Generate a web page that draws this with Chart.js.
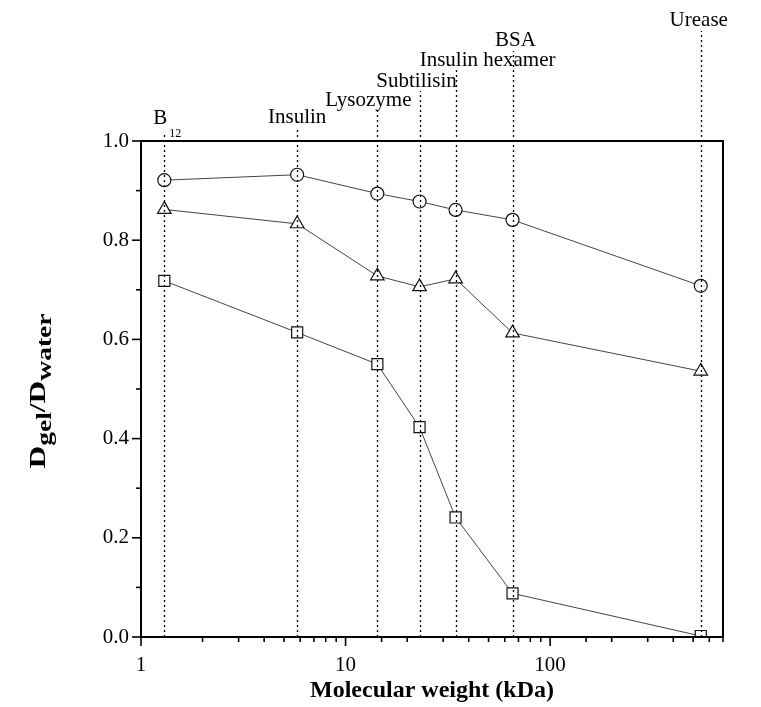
<!DOCTYPE html>
<html>
<head>
<meta charset="utf-8">
<script src="https://cdn.jsdelivr.net/npm/chart.js@4.4.0/dist/chart.umd.min.js"></script>
<style>
  html, body { margin: 0; padding: 0; background: #ffffff; }
  canvas { display: block; }
</style>
</head>
<body>
<canvas id="c" width="761" height="707"></canvas>
<script>
// ---- data ----
const proteins = ['B12', 'Insulin', 'Lysozyme', 'Subtilisin', 'Insulin hexamer', 'BSA', 'Urease'];
const molecularWeight = [1.3, 5.8, 14.3, 23, 34.5, 65.5, 545];
const seriesCircle = [0.921, 0.932, 0.894, 0.878, 0.861, 0.841, 0.708];
const seriesTriangle = [0.862, 0.833, 0.728, 0.706, 0.722, 0.613, 0.536];
const seriesSquare = [0.718, 0.614, 0.550, 0.423, 0.241, 0.088, 0.002];
const xMajorTickLabels = [1, 10, 100];
const yTickLabels = ['0.0', '0.2', '0.4', '0.6', '0.8', '1.0'];

const FONT = '"Liberation Serif", "Times New Roman", serif';

function pts(ys) { return molecularWeight.map((x, i) => ({ x: x, y: ys[i] })); }

function ds(label, ys, style, radius) {
  return {
    label: label,
    data: pts(ys),
    showLine: true,
    borderColor: '#444',
    borderWidth: 1,
    pointStyle: style,
    pointRadius: radius,
    pointHoverRadius: radius,
    pointBorderColor: '#111',
    pointBorderWidth: 1.2,
    pointBackgroundColor: '#ffffff',
    tension: 0
  };
}

// label placement (style only): horizontal offset from line, text center y, line top y
const labelStyle = [
  { dx: 3, y: 118, top: 134 },
  { dx: 0, y: 117, top: 127 },
  { dx: -9, y: 100, top: 110 },
  { dx: -3, y: 81, top: 91 },
  { dx: 32, y: 60, top: 70 },
  { dx: 3, y: 40, top: 51 },
  { dx: -2, y: 20, top: 31 }
];

const overlay = {
  id: 'overlay',
  afterDatasetsDraw(chart) {
    const ctx = chart.ctx;
    const xs = chart.scales.x, ys = chart.scales.y;
    const a = chart.chartArea;
    ctx.save();
    // dotted reference lines + protein labels
    ctx.strokeStyle = '#000';
    ctx.lineWidth = 1.3;
    ctx.setLineDash([2, 3]);
    molecularWeight.forEach((mw, i) => {
      const px = Math.round(xs.getPixelForValue(mw)) + 0.5;
      ctx.beginPath();
      ctx.moveTo(px, a.bottom);
      ctx.lineTo(px, labelStyle[i].top);
      ctx.stroke();
    });
    ctx.setLineDash([]);
    ctx.fillStyle = '#000';
    ctx.textBaseline = 'middle';
    molecularWeight.forEach((mw, i) => {
      const px = xs.getPixelForValue(mw);
      const st = labelStyle[i];
      const name = proteins[i];
      const m = name.match(/^([A-Za-z]+)(\d+)$/);
      if (m) {
        ctx.font = '21px ' + FONT;
        const w1 = ctx.measureText(m[1]).width;
        ctx.font = '12px ' + FONT;
        const w2 = ctx.measureText(m[2]).width;
        const x0 = px + st.dx - (w1 + w2 + 2) / 2;
        ctx.textAlign = 'left';
        ctx.font = '21px ' + FONT;
        ctx.fillText(m[1], x0, st.y);
        ctx.font = '12px ' + FONT;
        ctx.fillText(m[2], x0 + w1 + 2, st.y + 16);
      } else {
        ctx.font = '21px ' + FONT;
        ctx.textAlign = 'center';
        ctx.fillText(name, px + st.dx, st.y);
      }
    });
    // frame
    ctx.strokeStyle = '#000';
    ctx.lineWidth = 2;
    ctx.strokeRect(a.left, a.top, a.right - a.left, a.bottom - a.top);
    // ticks
    ctx.lineWidth = 1.6;
    xs.ticks.forEach(t => {
      const px = xs.getPixelForValue(t.value);
      const major = xMajorTickLabels.includes(t.value);
      ctx.beginPath();
      ctx.moveTo(px, a.bottom);
      ctx.lineTo(px, a.bottom + (major ? 9 : 5));
      ctx.stroke();
    });
    ys.ticks.forEach((t, i) => {
      const py = ys.getPixelForValue(t.value);
      const major = t.label !== '';
      ctx.beginPath();
      ctx.moveTo(a.left, py);
      ctx.lineTo(a.left - (major ? 9 : 5), py);
      ctx.stroke();
    });
    // y title with subscripts
    ctx.translate(40, 391);
    ctx.rotate(-Math.PI / 2);
    const parts = [
      { t: 'D', f: 'bold 24px ' + FONT, dy: -1 },
      { t: 'gel', f: 'bold 21px ' + FONT, dy: 6 },
      { t: '/D', f: 'bold 24px ' + FONT, dy: -1 },
      { t: 'water', f: 'bold 21px ' + FONT, dy: 6 }
    ];
    let total = 0;
    parts.forEach(p => { ctx.font = p.f; p.w = ctx.measureText(p.t).width; total += p.w; });
    const stretch = 155 / total;
    ctx.scale(stretch, 1);
    let x = -total / 2;
    ctx.textAlign = 'left';
    ctx.textBaseline = 'middle';
    parts.forEach(p => { ctx.font = p.f; ctx.fillText(p.t, x, p.dy); x += p.w; });
    ctx.restore();
  }
};

new Chart(document.getElementById('c'), {
  type: 'scatter',
  data: {
    datasets: [
      ds('circle', seriesCircle, 'circle', 6.5),
      ds('triangle', seriesTriangle, 'triangle', 7.8),
      ds('square', seriesSquare, 'rect', 7.8)
    ]
  },
  options: {
    responsive: false,
    animation: false,
    devicePixelRatio: 1,
    layout: { padding: { top: 141, right: 38, left: 0, bottom: 0 } },
    plugins: { legend: { display: false }, tooltip: { enabled: false } },
    scales: {
      x: {
        type: 'logarithmic',
        min: 1,
        max: 700,
        grid: { display: false },
        border: { display: false },
        afterFit(s) { s.height = 70; },
        ticks: {
          autoSkip: false,
          maxRotation: 0,
          padding: 8,
          color: '#000',
          font: { family: FONT, size: 21 },
          callback: v => xMajorTickLabels.includes(v) ? String(v) : ''
        },
        title: {
          display: true,
          text: 'Molecular weight (kDa)',
          color: '#000',
          font: { family: FONT, size: 24, weight: 'bold' },
          padding: { top: 0, bottom: 2 }
        }
      },
      y: {
        min: 0,
        max: 1,
        grid: { display: false },
        border: { display: false },
        afterFit(s) { s.width = 141; },
        ticks: {
          stepSize: 0.1,
          autoSkip: false,
          padding: 4,
          color: '#000',
          font: { family: FONT, size: 21 },
          callback: (v, i) => {
            const lbl = v.toFixed(1);
            return yTickLabels.includes(lbl) && Math.abs(v * 10 - Math.round(v * 10)) < 1e-6 && Math.round(v * 10) % 2 === 0 ? lbl : '';
          }
        }
      }
    }
  },
  plugins: [overlay]
});
</script>
</body>
</html>
